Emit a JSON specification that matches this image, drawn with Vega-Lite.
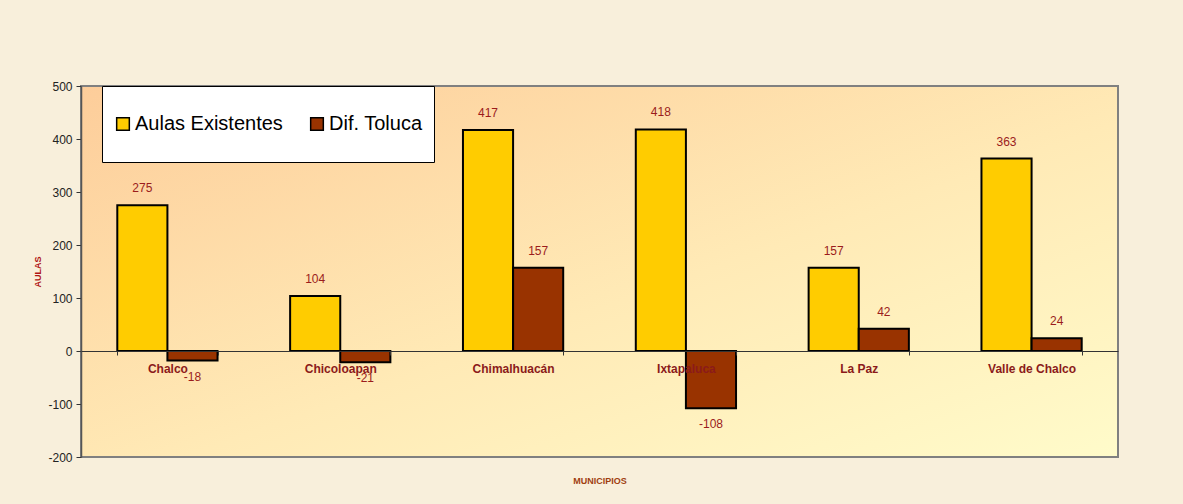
{
  "$schema": "https://vega.github.io/schema/vega-lite/v6.json",
  "width": 1037,
  "height": 371,
  "autosize": {"type": "none"},
  "padding": {"left": 81, "top": 86, "right": 65, "bottom": 47},
  "background": "#f8efdb",
  "config": {
    "font": "Liberation Sans",
    "view": {
      "fill": {"gradient": "linear", "x1": 0, "y1": 0, "x2": 1, "y2": 1,
        "stops": [{"offset": 0, "color": "#fdcd9a"}, {"offset": 0.55, "color": "#ffeab6"}, {"offset": 1, "color": "#fffbca"}]},
      "stroke": "#808080",
      "strokeWidth": 2
    }
  },
  "data": {
    "values": [
      {"municipio": "Chalco", "serie": "Aulas Existentes", "valor": 275},
      {"municipio": "Chalco", "serie": "Dif. Toluca", "valor": -18},
      {"municipio": "Chicoloapan", "serie": "Aulas Existentes", "valor": 104},
      {"municipio": "Chicoloapan", "serie": "Dif. Toluca", "valor": -21},
      {"municipio": "Chimalhuacán", "serie": "Aulas Existentes", "valor": 417},
      {"municipio": "Chimalhuacán", "serie": "Dif. Toluca", "valor": 157},
      {"municipio": "Ixtapaluca", "serie": "Aulas Existentes", "valor": 418},
      {"municipio": "Ixtapaluca", "serie": "Dif. Toluca", "valor": -108},
      {"municipio": "La Paz", "serie": "Aulas Existentes", "valor": 157},
      {"municipio": "La Paz", "serie": "Dif. Toluca", "valor": 42},
      {"municipio": "Valle de Chalco", "serie": "Aulas Existentes", "valor": 363},
      {"municipio": "Valle de Chalco", "serie": "Dif. Toluca", "valor": 24}
    ]
  },
  "encoding": {
    "x": {
      "field": "municipio", "type": "nominal", "sort": null,
      "scale": {"paddingInner": 0.42, "paddingOuter": 0.21},
      "axis": {
        "title": "MUNICIPIOS", "offset": -106, "labelAngle": 0, "zindex": 1,
        "labelFont": "Liberation Sans", "labelFontWeight": "bold", "labelFontSize": 12, "labelColor": "#8b1a1a",
        "labelPadding": 8, "tickBand": "extent", "tickSize": 4, "tickColor": "#333333",
        "domainColor": "#333333", "domainWidth": 1,
        "titleFontSize": 9, "titleFontWeight": "bold", "titleColor": "#a0400f", "titleY": 129, "titleBaseline": "middle"
      }
    },
    "xOffset": {"field": "serie", "type": "nominal", "sort": ["Aulas Existentes", "Dif. Toluca"], "scale": {"paddingInner": 0, "paddingOuter": 0}},
    "y": {
      "field": "valor", "type": "quantitative",
      "scale": {"domain": [-200, 500], "nice": false, "zero": false},
      "axis": {
        "title": "AULAS", "values": [-200, -100, 0, 100, 200, 300, 400, 500], "grid": false,
        "labelExpr": "'' + datum.value",
        "labelFontSize": 12, "labelColor": "#222222", "labelPadding": 4, "tickSize": 5, "tickColor": "#333333",
        "domainColor": "#555555", "domainWidth": 1.5,
        "titleFontSize": 9, "titleFontWeight": "bold", "titleColor": "#b01515", "titlePadding": 5
      }
    }
  },
  "layer": [
    {
      "mark": {"type": "bar", "stroke": "#000000", "strokeWidth": 2},
      "encoding": {
        "color": {
          "field": "serie", "type": "nominal",
          "scale": {"domain": ["Aulas Existentes", "Dif. Toluca"], "range": ["#ffcc00", "#993300"]},
          "legend": {
            "title": null, "orient": "none", "legendX": 21, "legendY": 0, "direction": "horizontal",
            "fillColor": "#ffffff", "strokeColor": "#000000", "padding": 11,
            "clipHeight": 54,
            "symbolType": "square", "symbolSize": 160, "symbolStrokeColor": "#000000", "symbolStrokeWidth": 1.5, "symbolOpacity": 1,
            "labelFontSize": 20, "labelColor": "#000000", "labelOffset": 2, "columnPadding": 24
          }
        }
      }
    },
    {
      "transform": [{"filter": "datum.valor >= 0"}],
      "mark": {"type": "text", "dy": -17, "baseline": "middle", "fontSize": 12, "color": "#9b1c1c"},
      "encoding": {"text": {"field": "valor", "type": "nominal"}}
    },
    {
      "transform": [{"filter": "datum.valor < 0"}],
      "mark": {"type": "text", "dy": 16, "baseline": "middle", "fontSize": 12, "color": "#9b1c1c"},
      "encoding": {"text": {"field": "valor", "type": "nominal"}}
    }
  ]
}
